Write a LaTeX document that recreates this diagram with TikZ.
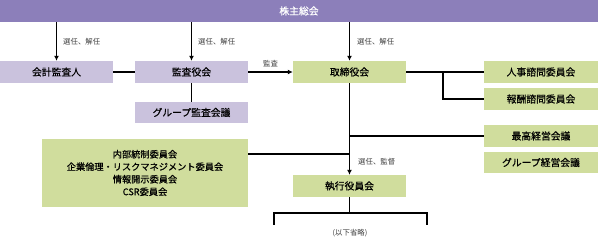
\documentclass[tikz,border=0pt]{standalone}
\usepackage{fontspec}
\setmainfont{Noto Sans CJK JP}
\newfontfamily\boxfont{Noto Sans CJK JP}[FakeBold=0.6]
\usepackage{xcolor}
\usepackage{tikz}
\usetikzlibrary{arrows.meta, positioning, calc}
\definecolor{soukaipurple}{RGB}{140,127,186}
\definecolor{kansapurple}{RGB}{202,194,221}
\definecolor{boardgreen}{RGB}{208,221,157}
\definecolor{labelgray}{RGB}{60,60,60}
\tikzset{
  kbox/.style   = {rectangle, fill=kansapurple, minimum width=113pt,
                   minimum height=22pt, inner sep=0pt, align=center,
                   font=\boxfont\fontsize{9.8}{11}\selectfont},
  gbox/.style   = {rectangle, fill=boardgreen, minimum width=114pt,
                   minimum height=22pt, inner sep=0pt, align=center,
                   font=\boxfont\fontsize{9.8}{11}\selectfont},
  arrow/.style  = {-{Latex[length=5pt, width=5pt]}, line width=1.2pt},
  wire/.style   = {line width=1.2pt},
  lbl/.style    = {font=\fontsize{7.4}{8}\selectfont, text=labelgray, inner sep=0pt},
}

\begin{document}
\begin{tikzpicture}[x=1pt, y=-1pt]
  \useasboundingbox (0,0) rectangle (598,240);

  % ---- shareholders ----
  \node[rectangle, fill=soukaipurple, minimum width=598pt, minimum height=22pt,
        inner sep=0pt, text=white, font=\boxfont\fontsize{9.8}{11}\selectfont]
        (soukai) at (299,11) {株主総会};

  % ---- audit side ----
  \node[kbox] (kaikei)    at (56.5,72)   {会計監査人};
  \node[kbox] (kansayaku) at (191.5,72)  {監査役会};
  \node[kbox, minimum height=21pt] (gkansa) at (191.5,112.5) {グループ監査会議};

  % ---- board and committees ----
  \node[gbox, minimum width=113pt] (torishimari) at (349.5,72) {取締役会};
  \node[gbox] (jinji)   at (541,72)    {人事諮問委員会};
  \node[gbox] (houshu)  at (541,99)    {報酬諮問委員会};
  \node[gbox] (saikou)  at (541,136)   {最高経営会議};
  \node[gbox, minimum height=21pt] (gkeiei) at (541,162.5) {グループ経営会議};
  \node[gbox, minimum width=206pt, minimum height=68pt,
        font=\boxfont\fontsize{9.2}{12.5}\selectfont] (naibu) at (145,173)
        {内部統制委員会\\企業倫理・リスクマネジメント委員会\\情報開示委員会\\CSR委員会};
  \node[gbox, minimum width=113pt] (shikkou) at (349.5,186) {執行役員会};

  % arrows from the general meeting
  \foreach \b in {kaikei, kansayaku, torishimari}
    \draw[arrow] (\b.north |- soukai.south) -- (\b.north);
  \node[lbl, anchor=west] at (63,42)  {選任、解任};
  \node[lbl, anchor=west] at (198,42) {選任、解任};
  \node[lbl, anchor=west] at (357,42) {選任、解任};

  % audit links
  \draw[wire] (kaikei.east) -- (kansayaku.west);
  \draw[wire] (kansayaku.south) -- (gkansa.north);
  \draw[arrow] (kansayaku.east) -- node[lbl, above=4pt] {監査} (torishimari.west);

  % committees
  \coordinate (split) at (443,72);
  \draw[wire] (torishimari.east) -- (jinji.west);
  \draw[wire] (split) |- (houshu.west);
  \draw[wire] (torishimari.south |- saikou.west) -- (saikou.west);
  \draw[wire] ([yshift=19pt]naibu.east) -- ([yshift=19pt]naibu.east -| shikkou.north);
  \draw[arrow] (torishimari.south) -- (shikkou.north);
  \node[lbl, anchor=west] at (358,162) {選任、監督};

  % below the executive committee
  \coordinate (legl) at (274,225);
  \coordinate (legr) at (427,225);
  \draw[wire] (shikkou.south) -- (shikkou.south |- 0,213);
  \draw[wire] (legl) |- (legr |- 0,213) -- (legr);
  \node[lbl] (omit) at (350,233) {(以下省略)};
\end{tikzpicture}
\end{document}
